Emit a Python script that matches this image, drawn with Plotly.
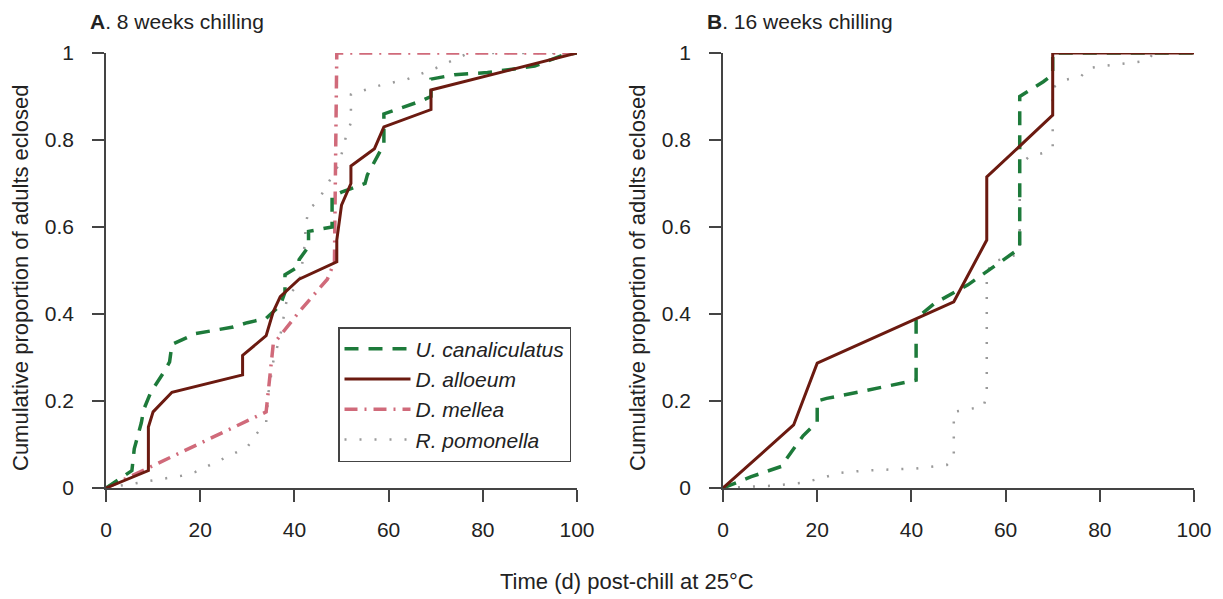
import plotly.graph_objects as go

# ---------------- data ----------------
series_names = ["U. canaliculatus", "D. alloeum", "D. mellea", "R. pomonella"]

# Panel A: 8 weeks chilling
a_ucan_x = [0, 5.5, 6, 7.5, 8, 9.5, 12.5, 13.5, 14, 19, 27, 30, 34, 37, 38, 38, 41, 41, 43, 43, 48, 48, 50, 55, 55.5, 59, 59, 67, 69, 69, 74, 81, 91, 97, 100]
a_ucan_y = [0, 0.04, 0.09, 0.15, 0.18, 0.22, 0.27, 0.29, 0.33, 0.355, 0.37, 0.38, 0.39, 0.42, 0.45, 0.49, 0.51, 0.525, 0.555, 0.59, 0.60, 0.67, 0.68, 0.70, 0.72, 0.79, 0.86, 0.89, 0.90, 0.94, 0.95, 0.955, 0.97, 0.995, 1.0]

a_dall_x = [0, 9, 9, 10, 14, 29, 29, 34, 35.5, 37, 41, 49, 49, 50, 52, 52, 57, 59, 69, 69, 100]
a_dall_y = [0, 0.04, 0.14, 0.175, 0.22, 0.26, 0.305, 0.35, 0.405, 0.44, 0.48, 0.52, 0.57, 0.65, 0.70, 0.74, 0.78, 0.83, 0.87, 0.915, 1.0]

a_dmel_x = [0, 34, 35.5, 41, 47, 48.5, 49, 100]
a_dmel_y = [0, 0.175, 0.33, 0.405, 0.48, 0.52, 1.0, 1.0]

a_rpom_x = [0, 9, 16, 19, 25, 30, 32, 34, 34.5, 35.5, 37, 38.5, 41, 42, 42.5, 43, 45, 48, 49.5, 51, 52, 52, 58, 64, 67, 70, 73, 77, 100]
a_rpom_y = [0, 0.015, 0.028, 0.037, 0.068, 0.094, 0.125, 0.15, 0.22, 0.29, 0.35, 0.44, 0.47, 0.54, 0.61, 0.64, 0.66, 0.715, 0.745, 0.81, 0.84, 0.905, 0.925, 0.94, 0.953, 0.965, 0.98, 1.0, 1.0]

# Panel B: 16 weeks chilling
b_ucan_x = [0, 6, 12.5, 13, 17, 20, 20, 22, 29, 36, 41, 41, 45, 52, 57.5, 63, 63, 68, 70, 70, 100]
b_ucan_y = [0, 0.026, 0.05, 0.06, 0.12, 0.152, 0.2, 0.206, 0.221, 0.237, 0.248, 0.39, 0.425, 0.467, 0.509, 0.551, 0.9, 0.934, 0.95, 1.0, 1.0]

b_dall_x = [0, 15, 20, 41, 49, 56, 56, 70, 70, 100]
b_dall_y = [0, 0.145, 0.287, 0.388, 0.428, 0.57, 0.715, 0.857, 1.0, 1.0]

b_rpom_x = [0, 10, 17, 19, 22, 25, 30, 41, 47.5, 49, 49, 52, 55.3, 56, 56, 57, 60, 63, 63, 65, 68, 70, 70, 72.5, 76, 77.5, 80.5, 90, 91.5, 100]
b_rpom_y = [0, 0.005, 0.012, 0.017, 0.026, 0.035, 0.04, 0.045, 0.053, 0.068, 0.175, 0.181, 0.187, 0.214, 0.49, 0.52, 0.528, 0.539, 0.742, 0.762, 0.77, 0.785, 0.92, 0.938, 0.946, 0.965, 0.97, 0.982, 1.0, 1.0]

x_ticks = [0, 20, 40, 60, 80, 100]
y_ticks = [0, 0.2, 0.4, 0.6, 0.8, 1]
y_tick_text = ["0", "0.2", "0.4", "0.6", "0.8", "1"]

# ---------------- styles ----------------
styles = {
    "U. canaliculatus": dict(color="#1d7a3a", width=3.5, dash="14px,10px"),
    "D. alloeum": dict(color="#6b1a10", width=3, dash="solid"),
    "D. mellea": dict(color="#d06a7a", width=3.5, dash="13px,7px,2px,7px"),
    "R. pomonella": dict(color="#9a9a9a", width=2.5, dash="2px,13px"),
}

fig = go.Figure()

panel_a = [(a_ucan_x, a_ucan_y), (a_dall_x, a_dall_y), (a_dmel_x, a_dmel_y), (a_rpom_x, a_rpom_y)]
order = [3, 2, 0, 1]
for i in order:
    name = series_names[i]
    xs, ys = panel_a[i]
    fig.add_trace(go.Scatter(x=xs, y=ys, mode="lines", name="<i>" + name + "</i>",
                             line=styles[name], xaxis="x", yaxis="y",
                             legendrank=i + 1, cliponaxis=False, showlegend=True))

panel_b = {0: (b_ucan_x, b_ucan_y), 1: (b_dall_x, b_dall_y), 3: (b_rpom_x, b_rpom_y)}
for i in [3, 0, 1]:
    name = series_names[i]
    xs, ys = panel_b[i]
    fig.add_trace(go.Scatter(x=xs, y=ys, mode="lines", name=name,
                             line=styles[name], xaxis="x2", yaxis="y2",
                             cliponaxis=False, showlegend=False))

# page body has an 8px margin: work in reference pixels minus that offset
OFF = 8
W, H = 1223 - OFF, 599 - OFF


def px(v):
    return (v - OFF) / W


def py(v):
    return 1 - (v - OFF) / H


FONT = "Liberation Sans, Arial"
axis_common = dict(showline=True, linecolor="#444", linewidth=1.5, ticks="outside",
                   ticklen=12, tickwidth=1.5, tickcolor="#444", showgrid=False,
                   zeroline=False, automargin=False,
                   tickfont=dict(family=FONT, size=21, color="#222"))
ydom = [py(488), py(53)]

fig.update_layout(
    width=W, height=H,
    margin=dict(l=0, r=0, t=0, b=0, autoexpand=False),
    plot_bgcolor="white", paper_bgcolor="white",
    font=dict(family=FONT, color="#222"),
    xaxis=dict(domain=[px(106), px(577)], range=[0, 100], tickvals=x_ticks, anchor="y",
               ticklabelstandoff=10, **axis_common),
    yaxis=dict(domain=ydom, range=[0, 1], tickvals=y_ticks, ticktext=y_tick_text, anchor="x",
               ticklabelstandoff=14, **axis_common),
    xaxis2=dict(domain=[px(723), px(1194)], range=[0, 100], tickvals=x_ticks, anchor="y2",
                ticklabelstandoff=10, **axis_common),
    yaxis2=dict(domain=ydom, range=[0, 1], tickvals=y_ticks, ticktext=y_tick_text, anchor="x2",
                ticklabelstandoff=14, **axis_common),
    legend=dict(x=px(338), y=py(327), xanchor="left", yanchor="top",
                bordercolor="#444", borderwidth=1.5, bgcolor="white",
                font=dict(family=FONT, size=21, color="#222"),
                itemwidth=66, tracegroupgap=0),
    showlegend=True,
)

ann_font = dict(family=FONT, size=21, color="#222")
fig.add_annotation(x=px(88), y=py(21), xref="paper", yref="paper", xanchor="left", yanchor="middle",
                   text="<b>A</b>. 8 weeks chilling", showarrow=False, font=ann_font)
fig.add_annotation(x=px(705), y=py(21), xref="paper", yref="paper", xanchor="left", yanchor="middle",
                   text="<b>B</b>. 16 weeks chilling", showarrow=False, font=ann_font)
fig.add_annotation(x=px(627), y=py(581), xref="paper", yref="paper", xanchor="center", yanchor="middle",
                   text="Time (d) post-chill at 25°C", showarrow=False, font=dict(family=FONT, size=22, color="#222"))
for xp in [20, 637]:
    fig.add_annotation(x=px(xp), y=py(278), xref="paper", yref="paper", xanchor="center", yanchor="middle",
                       text="Cumulative proportion of adults eclosed", textangle=-90,
                       showarrow=False, font=dict(family=FONT, size=22, color="#222"))

fig.write_html("out.html")
